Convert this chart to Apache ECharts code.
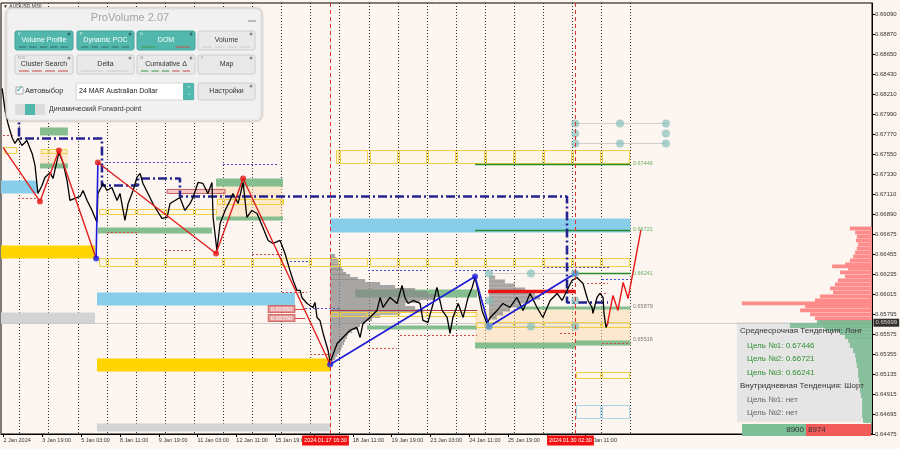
<!DOCTYPE html>
<html><head><meta charset="utf-8">
<script src="https://cdn.jsdelivr.net/npm/echarts@6/dist/echarts.min.js"></script>
<style>html,body{margin:0;padding:0;background:#fdf6f0}#c{width:900px;height:449px}</style>
</head><body><div id="c"></div>
<script>
// ---------- axes ----------
const yTickLabels = ['0.64475','0.64695','0.64915','0.65135','0.65355','0.65575','0.65795','0.66015','0.66235','0.66455','0.66675','0.66890','0.67110','0.67330','0.67550','0.67770','0.67990','0.68210','0.68430','0.68650','0.68870','0.69090'];
const xLabelTimes = [0.458,1.792,3.125,4.458,5.792,7.125,8.458,9.792,11.125,12.458,13.792,15.125,16.458,17.792,19.125,20.458];
const xTickLabels = ['2 Jan 2024','3 Jan 19:00','5 Jan 03:00','8 Jan 11:00','9 Jan 19:00','11 Jan 03:00','12 Jan 11:00','15 Jan 19:00','17 Jan 03:00','18 Jan 11:00','19 Jan 19:00','23 Jan 03:00','24 Jan 11:00','25 Jan 19:00','29 Jan 03:00','30 Jan 11:00'];
const daySeparators = [1,2,3,4,5,6,7,8,9,10,11,12,13,14,15,16,17,18,19,20,21,22];
const markTimes = [11.6875, 20.1042];
const markLabels = ['2024.01.17 16:30','2024.01.30 02:30'];

// ---------- price (M30 close path, trading-day index) ----------
const priceTime = [0.41,0.51,0.61,0.75,0.85,0.96,1.09,1.26,1.44,1.54,1.64,1.78,1.88,2.06,2.16,2.30,2.36,2.50,2.64,2.74,2.91,3.09,3.19,3.33,3.50,3.60,3.67,3.70,3.88,4.01,4.18,4.36,4.46,4.63,4.74,4.91,5.04,5.15,5.25,5.42,5.59,5.73,5.90,6.08,6.18,6.35,6.52,6.69,6.87,6.97,7.14,7.31,7.48,7.62,7.66,7.79,7.90,8.07,8.24,8.34,8.52,8.69,8.82,8.99,9.17,9.37,9.55,9.72,9.96,10.13,10.30,10.41,10.54,10.65,10.71,10.89,11.09,11.16,11.23,11.33,11.44,11.51,11.61,11.68,11.92,12.12,12.36,12.60,12.71,12.81,13.05,13.29,13.40,13.50,13.74,13.98,14.15,14.25,14.36,14.53,14.77,14.87,15.04,15.22,15.35,15.53,15.70,15.80,15.90,16.08,16.25,16.42,16.56,16.66,16.76,16.90,17.07,17.18,17.42,17.62,17.86,18.10,18.31,18.55,18.79,18.99,19.24,19.48,19.65,19.82,19.99,20.16,20.37,20.54,20.68,20.71,20.85,20.95,21.06,21.09,21.16,21.23];
const priceValue = [0.68276,0.68034,0.67891,0.67737,0.67671,0.67726,0.67649,0.67704,0.67561,0.67429,0.67121,0.67209,0.67297,0.67352,0.67286,0.67484,0.67572,0.67462,0.67264,0.67044,0.67066,0.67088,0.67154,0.67044,0.66934,0.66857,0.66802,0.67121,0.67231,0.67154,0.67187,0.67044,0.67121,0.66824,0.67011,0.67154,0.67297,0.67341,0.67231,0.67121,0.67011,0.66934,0.66846,0.66857,0.67011,0.67044,0.67077,0.66934,0.67011,0.67077,0.67242,0.67231,0.67121,0.67242,0.66857,0.66494,0.66791,0.66934,0.67044,0.67121,0.67011,0.67242,0.66857,0.66934,0.66901,0.66747,0.66604,0.66571,0.66604,0.66461,0.66274,0.66164,0.66054,0.66054,0.65977,0.65911,0.65867,0.65922,0.65757,0.65724,0.65581,0.65504,0.65394,0.65262,0.65471,0.65537,0.65614,0.65647,0.65537,0.65691,0.65757,0.65834,0.65977,0.65867,0.65977,0.65911,0.66109,0.65977,0.65911,0.65944,0.65911,0.65724,0.65702,0.65911,0.66087,0.65834,0.65757,0.65581,0.65757,0.65911,0.65757,0.65977,0.66087,0.66197,0.66054,0.65834,0.65691,0.65757,0.65834,0.65911,0.65867,0.65977,0.65834,0.66021,0.65867,0.65757,0.65944,0.66021,0.65944,0.66054,0.66164,0.66197,0.66131,0.65944,0.65867,0.65801,0.65977,0.66021,0.65977,0.65801,0.65647,0.65702];
const lastPrice = 0.65699;

// ---------- zigzag / trend ----------
const zigzagRedA = [[0.44,0.67627],[1.71,0.67033],[2.36,0.67594],[3.64,0.66406]];
const zigzagBlueA = [[3.64,0.66406],[3.70,0.67462]];
const zigzagRedB = [[3.70,0.67462],[7.76,0.66461],[8.69,0.67286],[11.68,0.65240]];
const zigzagBlueB = [[11.68,0.65240],[16.66,0.66208],[17.14,0.65658],[20.10,0.66241]];
const redPivots = [[1.71,0.67033],[2.36,0.67594],[3.70,0.67462],[7.76,0.66461],[8.69,0.67286]];
const bluePivots = [[3.64,0.66406],[11.68,0.65240],[16.66,0.66208],[17.14,0.65658],[20.10,0.66241]];
const forecast = [[21.20,0.65669],[21.40,0.65999],[21.57,0.65834],[21.75,0.66142],[21.92,0.65966],[22.36,0.66721]];
const blueStep = [[0.99,0.68034],[0.99,0.67726],[3.84,0.67726],[3.84,0.67209],[5.08,0.67209],[5.08,0.67286],[6.52,0.67286],[6.52,0.67088],[19.82,0.67088],[19.82,0.65922],[21.23,0.65922]];

// ---------- zones [start, end, top, bottom] ----------
const lightBlueZones = [[0.34,1.61,0.67264,0.67121],[3.67,10.47,0.66032,0.65889],[11.68,22.0,0.66846,0.66692]];
const goldZones = [[0.34,3.60,0.66549,0.66406],[3.67,11.68,0.65306,0.65163]];
const greyZones = [[0.34,3.60,0.65812,0.65691],[3.67,11.68,0.64591,0.64503]];
const greenZones = [[1.71,2.67,0.67847,0.67759],[1.71,2.67,0.67451,0.67396],[3.70,7.62,0.66747,0.66681],[7.76,10.06,0.67286,0.67198],[7.76,10.06,0.66868,0.66824],[12.54,16.73,0.66065,0.65977],[12.95,16.73,0.65669,0.65625],[16.66,20.10,0.65482,0.65416],[18.10,22.0,0.65878,0.65845],[20.10,22.0,0.65504,0.65449]];
const peachZones = [[1.71,2.67,0.67594,0.67429],[7.76,10.06,0.67198,0.66824],[16.66,22.0,0.65845,0.65449]];
const pinkZones = [[6.08,8.07,0.67165,0.67121]];
const yellowBoxRows = [[0.44,0.92,0.67627,0.67561],[1.71,2.67,0.67605,0.67561],[3.70,7.79,0.66945,0.66890],[7.76,10.06,0.67055,0.67000],[3.70,22.0,0.66406,0.66318],[11.85,22.0,0.67594,0.67451],[16.66,22.0,0.65702,0.65647],[20.10,22.0,0.65152,0.65086],[11.68,16.73,0.65812,0.65768]];
const blueBoxRows = [[20.10,22.0,0.64789,0.64646]];

// ---------- levels [start, end, price] ----------
const targetLines = [[16.66,22.0,0.67446],[16.66,22.0,0.66721],[20.10,22.0,0.66241]];
const redDotted = [[0.44,0.78,0.67759],[0.96,1.61,0.67066],[4.01,5.04,0.66692],[6.01,6.93,0.66494],[9.00,10.06,0.66450],[10.03,10.89,0.66032],[10.99,11.68,0.65350],[12.98,13.98,0.65416],[14.08,16.73,0.65559],[19.58,20.10,0.65581],[21.02,22.0,0.65471],[20.51,21.23,0.66131],[20.95,21.23,0.66021]];
const blueDotted = [[3.94,6.97,0.67462],[8.00,9.86,0.67440],[10.82,12.02,0.65856],[10.30,10.92,0.66373],[12.98,14.94,0.66274],[15.97,17.93,0.66274],[19.00,21.30,0.66307],[21.02,22.0,0.66175]];
const thickRedLines = [[17.11,20.10,0.66043]];
const pocLines = [[11.68,16.73,0.65834]];
const greyLines = [[17.14,20.10,0.66241],[17.14,20.10,0.65658],[20.10,23.22,0.67891],[20.10,23.22,0.67671]];
const tealDots = [[17.14,0.66241],[18.58,0.66241],[20.10,0.66241],[17.14,0.65944],[20.10,0.65944],[17.14,0.65658],[18.58,0.65658],[20.10,0.65658],[20.10,0.67891],[21.64,0.67891],[23.22,0.67891],[20.10,0.67781],[23.22,0.67781],[20.10,0.67671],[21.64,0.67671],[23.22,0.67671]];
const targetLevels = [0.67446,0.66721,0.66241,0.65879,0.65516];
const targetLabelTime = 22.0;
const levelTags = [0.65850,0.65750];
const levelTagTime = 10.47;
const levelTagLines = [[10.47,10.82,0.65850],[10.47,10.82,0.65750]];

// ---------- volume profiles [price, length in days] ----------
const midProfileStart = 11.68;
const midProfile = [[0.66439,0.17],[0.66406,0.22],[0.66384,0.27],[0.66351,0.30],[0.66329,0.34],[0.66296,0.40],[0.66274,0.45],[0.66241,0.55],[0.66219,0.69],[0.66186,0.95],[0.66164,1.20],[0.66131,1.72],[0.66098,2.23],[0.66065,2.92],[0.66032,3.37],[0.65999,3.71],[0.65966,3.61],[0.65933,3.09],[0.65900,2.58],[0.65867,2.92],[0.65834,3.20],[0.65801,2.41],[0.65768,1.72],[0.65735,1.44],[0.65702,1.20],[0.65669,1.03],[0.65636,0.93],[0.65603,0.76],[0.65570,0.62],[0.65537,0.58],[0.65504,0.52],[0.65471,0.48],[0.65438,0.42],[0.65405,0.38],[0.65372,0.34],[0.65339,0.25],[0.65306,0.18],[0.65284,0.10]];
const secondProfileStart = 17.14;
const secondProfile = [[0.66197,0.21],[0.66153,0.55],[0.66109,0.89],[0.66065,1.24],[0.66021,1.58],[0.65977,1.75],[0.65933,1.41],[0.65889,1.07],[0.65845,0.72],[0.65801,0.48],[0.65757,0.27]];
const rightProfileRed = [[0.66736,0.76],[0.66692,0.58],[0.66648,0.52],[0.66604,0.55],[0.66560,0.48],[0.66516,0.52],[0.66472,0.58],[0.66428,0.65],[0.66384,0.76],[0.66340,0.93],[0.66318,1.37],[0.66296,0.82],[0.66252,1.10],[0.66208,0.93],[0.66164,1.17],[0.66120,1.27],[0.66076,1.44],[0.66032,1.34],[0.65988,1.79],[0.65944,1.96],[0.65911,4.47],[0.65878,2.30],[0.65834,2.47],[0.65790,2.13],[0.65746,1.96],[0.65713,1.79]];
const rightProfileGreen = [[0.65702,1.89],[0.65669,2.82],[0.65636,1.62],[0.65592,1.10],[0.65548,0.93],[0.65504,0.82],[0.65449,0.76],[0.65394,0.65],[0.65339,0.58],[0.65284,0.55],[0.65229,0.52],[0.65174,0.48],[0.65119,0.48],[0.65064,0.45],[0.65009,0.41],[0.64954,0.41],[0.64899,0.38],[0.64844,0.34],[0.64789,0.34],[0.64734,0.34],[0.64679,0.34],[0.64624,0.31]];
const buyVolume = 8900, sellVolume = 8974;

// ---------- chart ----------
const X_MIN = 0.371, X_MAX = 30.30, Y_MIN = 0.64475, Y_MAX = 0.69216, Y_STEP = 0.0022;
const FONT = '"Liberation Sans", Arial, sans-serif';
const HIDDEN = 'rgba(0,0,0,0)';

function rectSeries(data, style, z) {
  return {type:'custom', data, z, silent:true, clip:true, encode:{x:[0,1], y:[2,3]},
    renderItem:(p, api) => {
      const a = api.coord([api.value(0), api.value(2)]), b = api.coord([api.value(1), api.value(3)]);
      return {type:'rect', shape:{x:a[0], y:a[1], width:b[0]-a[0], height:Math.max(1,b[1]-a[1])}, style:Object.assign({}, style)};
    }};
}
function boxRowSeries(data, style, z) {
  return {type:'custom', data, z, silent:true, encode:{x:[0,1], y:[2,3]},
    renderItem:(p, api) => {
      const x0 = api.value(0), x1 = api.value(1), t = api.value(2), bt = api.value(3);
      const children = []; let a = x0;
      while (a < x1 - 1e-6) {
        const b = Math.min(x1, Math.floor(a + 1e-6) + 1);
        const pa = api.coord([a, t]), pb = api.coord([b, bt]);
        children.push({type:'rect', shape:{x:Math.round(pa[0])+1.5, y:Math.round(pa[1])+0.5, width:Math.max(1, pb[0]-pa[0]-2), height:Math.max(2, Math.round(pb[1]-pa[1]))}, style:Object.assign({}, style)});
        a = b;
      }
      return {type:'group', children};
    }};
}
function segSeries(data, style, z) {
  return {type:'custom', data, z, silent:true, encode:{x:[0,1], y:2},
    renderItem:(p, api) => {
      const a = api.coord([api.value(0), api.value(2)]), b = api.coord([api.value(1), api.value(2)]);
      const y = Math.round(a[1]) + 0.5;
      return {type:'line', shape:{x1:a[0], y1:y, x2:b[0], y2:y}, style:Object.assign({}, style)};
    }};
}
function profileSeries(data, base, dir, rowH, color, z) {
  return {type:'custom', data, z, silent:true, encode:{y:0},
    renderItem:(p, api) => {
      const pr = api.value(0), w = api.value(1);
      const xa = dir > 0 ? base : base - w, xb = dir > 0 ? base + w : base;
      const a = api.coord([xa, pr + rowH/2]), b = api.coord([xb, pr - rowH/2]);
      return {type:'rect', shape:{x:a[0], y:a[1], width:b[0]-a[0], height:Math.max(1,b[1]-a[1])}, style:{fill:color}};
    }};
}
function lineSeries(data, color, width, z, type) {
  return {type:'line', data, z, silent:true, showSymbol:false, animation:false,
    lineStyle:{color, width, type: type || 'solid'}};
}

const series = [
  // day separators
  {type:'custom', z:1, silent:true, data: daySeparators.map(d => [d, Y_MIN]), encode:{x:0, y:1},
   renderItem:(p, api) => { const a = api.coord([api.value(0), Y_MAX]), b = api.coord([api.value(0), Y_MIN]); const x = Math.round(a[0]) + 0.5;
     return {type:'line', shape:{x1:x, y1:a[1], x2:x, y2:b[1]}, style:{stroke:'#333', lineWidth:1, lineDash:[1,2]}}; }},
  rectSeries(peachZones, {fill:'rgba(250,214,165,0.45)'}, 2),
  rectSeries(lightBlueZones, {fill:'#88cde9'}, 3),
  rectSeries(goldZones, {fill:'#ffd400'}, 3),
  rectSeries(greyZones, {fill:'#d3d3d3'}, 3),
  rectSeries(greenZones, {fill:'#86bd8e'}, 3),
  rectSeries(pinkZones, {fill:'rgba(235,160,160,0.5)', stroke:'#c86060', lineWidth:1}, 3),
  segSeries([[X_MIN, X_MAX, lastPrice]], {stroke:'#cdcdcd', lineWidth:1}, 3),
  profileSeries(midProfile, midProfileStart, 1, 0.00033, 'rgba(135,135,135,0.72)', 4),
  profileSeries(secondProfile, secondProfileStart, 1, 0.00044, 'rgba(135,135,135,0.72)', 4),
  profileSeries(rightProfileRed, X_MAX, -1, 0.00042, '#ff8a8a', 4),
  profileSeries(rightProfileGreen, X_MAX, -1, 0.00055, 'rgba(120,185,145,0.85)', 6),
  boxRowSeries(yellowBoxRows, {fill:'rgba(255,245,180,0.15)', stroke:'#f0d042', lineWidth:1}, 5),
  boxRowSeries(blueBoxRows, {fill:'none', stroke:'#a9d5e8', lineWidth:1}, 5),
  segSeries(greyLines, {stroke:'#cfcfcf', lineWidth:1}, 5),
  segSeries(redDotted, {stroke:'#d04848', lineWidth:1, lineDash:[2,2]}, 5),
  segSeries(blueDotted, {stroke:'#4848c8', lineWidth:1, lineDash:[2,2]}, 5),
  segSeries(pocLines, {stroke:'#b23a3a', lineWidth:1}, 5),
  segSeries(targetLines, {stroke:'#2b8a2b', lineWidth:1.5}, 6),
  segSeries(thickRedLines, {stroke:'#e81616', lineWidth:3.5}, 6),
  segSeries(levelTagLines, {stroke:'#d04848', lineWidth:1}, 6),
  lineSeries(blueStep, '#24248e', 2.6, 7, [9,3,2,3]),
  lineSeries(priceTime.map((t,i) => [t, priceValue[i]]), '#000', 1.3, 8),
  lineSeries(zigzagRedA, '#e02020', 1.4, 9),
  lineSeries(zigzagRedB, '#e02020', 1.4, 9),
  lineSeries(zigzagBlueA, '#1c1cd8', 1.6, 9),
  lineSeries(zigzagBlueB, '#1c1cd8', 1.6, 9),
  lineSeries(forecast, '#e81818', 1.4, 9),
  {type:'scatter', data:redPivots, z:10, silent:true, symbolSize:6, itemStyle:{color:'#e81818'}},
  {type:'scatter', data:bluePivots, z:10, silent:true, symbolSize:6, itemStyle:{color:'#1c1cd8'}},
  {type:'scatter', data:tealDots, z:10, silent:true, symbolSize:8, itemStyle:{color:'rgba(130,190,188,0.85)'}},
  {type:'scatter', z:11, silent:true, symbolSize:1, itemStyle:{color:HIDDEN},
   data: targetLevels.map((v,i) => ({value:[targetLabelTime, v], label:{color: i < 3 ? '#3a9a3a' : '#555'}})),
   label:{show:true, position:'right', distance:2, fontSize:5.5, fontFamily:FONT, formatter:p => p.value[1].toFixed(5)}},
  {type:'scatter', z:11, silent:true, symbolSize:1, itemStyle:{color:HIDDEN},
   data: levelTags.map(v => [levelTagTime, v]),
   label:{show:true, position:'left', distance:0, fontSize:6, fontFamily:FONT, color:'#fff', backgroundColor:'#e49a9a', borderColor:'#d04848', borderWidth:1, padding:[0,2], formatter:p => p.value[1].toFixed(5)}},
  // current price tag on the axis
  {type:'scatter', z:12, silent:true, clip:false, symbolSize:1, itemStyle:{color:HIDDEN},
   data:[[X_MAX, lastPrice]],
   label:{show:true, position:'right', distance:1, fontSize:6, fontFamily:FONT, color:'#fff', backgroundColor:'#000', padding:[1,2], formatter:p => p.value[1].toFixed(5)}},
  // red time markers
  {type:'custom', z:12, silent:true, clip:false, data: markTimes.map(t => [t, Y_MIN]), encode:{x:0, y:1},
   renderItem:(p, api) => { const a = api.coord([api.value(0), Y_MAX]), b = api.coord([api.value(0), Y_MIN]); const x = Math.round(a[0]) + 0.5;
     return {type:'group', children:[
       {type:'line', shape:{x1:x, y1:a[1], x2:x, y2:b[1]}, style:{stroke:'#e03030', lineWidth:1, lineDash:[4,3]}},
       {type:'text', x:x - 5, y:b[1] + 1.5, style:{text:markLabels[p.dataIndex], fill:'#fff', backgroundColor:'#f01010', padding:[2,2], font:'5.5px ' + FONT, align:'center', verticalAlign:'top'}}
     ]}; }}
];

// ---------- panels (UI overlay) ----------
function button(x, y, w, h, label, active, letter, dashes) {
  const els = [
    {type:'rect', z:101, shape:{x, y, width:w, height:h, r:2}, style:{fill: active ? '#52b7ad' : '#e9e9e9', stroke: active ? '#45a59b' : '#cdcdcd', lineWidth:1}},
    {type:'text', z:102, style:{text:label, x:x + w/2, y:y + h/2 - 0.5, fill: active ? '#fff' : '#333', font:'7px ' + FONT, textAlign:'center', textVerticalAlign:'middle'}},
    {type:'circle', z:102, shape:{cx:x + w - 4, cy:y + 3, r:1.5}, style:{fill: active ? '#2d6f68' : '#8a8a8a'}}
  ];
  if (letter) els.push({type:'text', z:102, style:{text:letter, x:x + 3, y:y + 3, fill: active ? '#e3f6f3' : '#999', font:'4px ' + FONT, textVerticalAlign:'middle'}});
  (dashes || []).forEach((c, i, arr) => {
    const seg = (w - 6) / arr.length;
    els.push({type:'line', z:102, shape:{x1:x + 3 + i*seg + 1, y1:y + h - 3, x2:x + 3 + (i+1)*seg - 2, y2:y + h - 3}, style:{stroke:c, lineWidth:1}});
  });
  return els;
}
const dk = '#2d6f68', rd = '#c84a4a', gr = '#3a9a4a';
const graphic = [
  {type:'text', z:90, style:{text:'▼ AUDUSD,M30', x:3, y:7, fill:'#333', font:'5px ' + FONT, textVerticalAlign:'middle'}},
  {type:'rect', z:100, shape:{x:6, y:8, width:256, height:113, r:6}, style:{fill:'#f1f1f1', stroke:'#cfcfcf', lineWidth:1, shadowBlur:3, shadowColor:'rgba(0,0,0,0.15)'}},
  {type:'text', z:101, style:{text:'ProVolume 2.07', x:130, y:17.5, fill:'#a3a3a3', font:'11px ' + FONT, textAlign:'center', textVerticalAlign:'middle'}},
  {type:'line', z:101, shape:{x1:248, y1:21, x2:256, y2:21}, style:{stroke:'#999', lineWidth:1.2}},
  ...button(15, 31, 58, 19, 'Volume Profile', true, 'V', [dk,dk,dk,dk,dk]),
  ...button(77, 31, 57, 19, 'Dynamic POC', true, 'P', [dk,dk,dk,dk,dk]),
  ...button(137, 31, 58, 19, 'DOM', true, 'D', [gr,'#52b7ad',rd]),
  ...button(198, 31, 57, 19, 'Volume', false, '', ['#ccc','#ccc','#ccc','#ccc']),
  ...button(15, 55, 58, 19, 'Cluster Search', false, 'R N', [rd,rd,rd,rd]),
  ...button(77, 55, 57, 19, 'Delta', false, '', ['#ccc','#ccc']),
  ...button(137, 55, 58, 19, 'Cumulative Δ', false, 'M', [gr,gr,gr,rd,rd]),
  ...button(198, 55, 57, 19, 'Map', false, 'F', []),
  {type:'rect', z:101, shape:{x:16, y:87, width:7, height:7}, style:{fill:'#fff', stroke:'#aaa', lineWidth:1}},
  {type:'text', z:102, style:{text:'✓', x:19.5, y:89.5, fill:'#52b7ad', font:'bold 9px ' + FONT, textAlign:'center', textVerticalAlign:'middle'}},
  {type:'text', z:101, style:{text:'Автовыбор', x:25, y:91, fill:'#333', font:'7.5px ' + FONT, textVerticalAlign:'middle'}},
  {type:'rect', z:101, shape:{x:76, y:83, width:118, height:17, r:1}, style:{fill:'#fff', stroke:'#d4d4d4', lineWidth:1}},
  {type:'text', z:102, style:{text:'24 MAR Australian Dollar', x:79, y:91.5, fill:'#222', font:'7px ' + FONT, textVerticalAlign:'middle'}},
  {type:'rect', z:102, shape:{x:183, y:83, width:11, height:17, r:1}, style:{fill:'#52b7ad'}},
  {type:'text', z:103, style:{text:'⌃\n⌄', x:188.5, y:91.5, fill:'#fff', font:'5px ' + FONT, textAlign:'center', textVerticalAlign:'middle'}},
  ...button(198, 83, 57, 17, 'Настройки', false, '', []),
  {type:'rect', z:101, shape:{x:15, y:104, width:30, height:11, r:2}, style:{fill:'#dcdcdc'}},
  {type:'rect', z:102, shape:{x:25, y:104, width:10, height:11}, style:{fill:'#52b7ad'}},
  {type:'text', z:101, style:{text:'Динамический Forward-point', x:49, y:109.5, fill:'#333', font:'7px ' + FONT, textVerticalAlign:'middle'}},
  // info panel
  {type:'rect', z:1, shape:{x:737, y:322, width:135, height:100}, style:{fill:'rgba(228,228,228,0.95)'}},
  {type:'text', z:60, style:{text:'Среднесрочная Тенденция: Лонг', x:740, y:331, fill:'#333', font:'8px ' + FONT, textVerticalAlign:'middle'}},
  ...targetLevels.slice(0,3).map((v,i) => ({type:'text', z:60, style:{text:'Цель №' + (i+1) + ': ' + v.toFixed(5), x:747, y:345.5 + i*13.5, fill:'#2f902f', font:'8px ' + FONT, textVerticalAlign:'middle'}})),
  {type:'text', z:60, style:{text:'Внутридневная Тенденция: Шорт', x:740, y:386, fill:'#333', font:'8px ' + FONT, textVerticalAlign:'middle'}},
  {type:'text', z:60, style:{text:'Цель №1: нет', x:747, y:399.5, fill:'#666', font:'8px ' + FONT, textVerticalAlign:'middle'}},
  {type:'text', z:60, style:{text:'Цель №2: нет', x:747, y:412.5, fill:'#666', font:'8px ' + FONT, textVerticalAlign:'middle'}},
  {type:'rect', z:60, shape:{x:742, y:424, width:64, height:12}, style:{fill:'#7cbf97'}},
  {type:'rect', z:60, shape:{x:806, y:424, width:65, height:12}, style:{fill:'#f35a5a'}},
  {type:'text', z:61, style:{text:String(buyVolume), x:804, y:430, fill:'#333', font:'8px ' + FONT, textAlign:'right', textVerticalAlign:'middle'}},
  {type:'text', z:61, style:{text:String(sellVolume), x:808, y:430, fill:'#333', font:'8px ' + FONT, textVerticalAlign:'middle'}}
];

const chart = echarts.init(document.getElementById('c'), null, {renderer:'canvas'});
chart.setOption({
  backgroundColor:'#fdf6f0',
  animation:false,
  grid:{left:1, right:28, top:3, bottom:15, show:true, borderColor:'#000', borderWidth:1, backgroundColor:'transparent'},
  xAxis:{type:'value', min:X_MIN, max:X_MAX, splitLine:{show:false},
    axisLine:{show:true, lineStyle:{color:'#000'}},
    axisTick:{show:true, customValues:xLabelTimes, length:3, lineStyle:{color:'#000'}},
    axisLabel:{customValues:xLabelTimes, fontSize:5.5, fontFamily:FONT, color:'#333', align:'left', margin:3,
      formatter:v => { let k = 0, best = 1e9; xLabelTimes.forEach((t,i) => { const d = Math.abs(t - v); if (d < best) { best = d; k = i; } }); return best < 0.01 ? xTickLabels[k] : ''; }}},
  yAxis:{type:'value', position:'right', min:Y_MIN, max:Y_MAX, interval:Y_STEP, splitLine:{show:false},
    axisLine:{show:true, lineStyle:{color:'#000'}},
    axisTick:{show:true, length:3, lineStyle:{color:'#000'}},
    axisLabel:{fontSize:6, fontFamily:FONT, color:'#333', margin:3, showMinLabel:true, showMaxLabel:false,
      formatter:v => { const r = (v - Y_MIN) / Y_STEP, k = Math.round(r); return Math.abs(r - k) < 0.02 && yTickLabels[k] ? yTickLabels[k] : ''; }}},
  series,
  graphic
});
</script>
</body></html>
